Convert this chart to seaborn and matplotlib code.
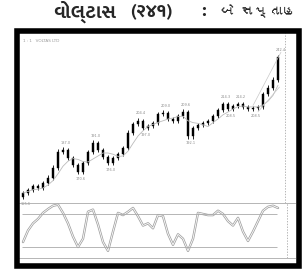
import pandas as pd
import matplotlib
matplotlib.use("Agg")
import matplotlib.pyplot as plt
import seaborn as sns
from matplotlib import font_manager
from matplotlib.ft2font import FT2Font
from matplotlib.patches import Rectangle

# datos de velas (vela diaria, Voltas)
opens = [157.0, 159.4, 161.2, 163.6, 162.4, 165.4, 168.4, 174.4, 184.0, 185.2,
         180.4, 176.2, 172.0, 177.4, 184.0, 189.4, 185.2, 181.0, 177.4, 180.4,
         182.8, 186.4, 195.4, 200.8, 202.6, 198.4, 199.6, 201.4, 206.8, 207.4,
         203.8, 202.6, 205.6, 208.0, 193.6, 198.4, 200.2, 201.4, 202.6, 205.6,
         209.2, 212.8, 209.8, 211.6, 212.8, 211.0, 209.8, 210.4, 211.0, 218.8,
         222.4, 227.2]
closes = [159.4, 161.2, 163.6, 162.4, 165.4, 168.4, 174.4, 184.0, 185.2, 180.4,
          176.2, 172.0, 177.4, 184.0, 189.4, 185.2, 181.0, 177.4, 180.4, 182.8,
          186.4, 195.4, 200.8, 202.6, 198.4, 199.6, 201.4, 206.8, 207.4, 203.8,
          202.6, 205.6, 208.0, 193.6, 198.4, 200.2, 201.4, 202.6, 205.6, 209.2,
          212.8, 209.8, 211.6, 212.8, 211.0, 209.8, 210.4, 211.0, 218.8, 222.4,
          227.2, 241.0]
highs = [160.8, 162.5, 165.0, 164.8, 166.9, 170.1, 176.0, 185.6, 187.0, 186.3,
         181.9, 177.5, 178.9, 185.5, 191.0, 190.6, 186.4, 182.2, 181.8, 184.1,
         187.9, 197.0, 202.3, 204.4, 203.8, 200.9, 202.8, 208.2, 209.0, 208.6,
         205.1, 207.0, 209.6, 209.1, 199.9, 201.5, 202.9, 203.9, 207.0, 210.5,
         214.3, 214.0, 213.0, 214.2, 214.0, 212.3, 211.9, 212.4, 220.3, 224.0,
         228.8, 242.4]
lows = [155.6, 158.0, 160.0, 161.0, 161.1, 164.0, 167.2, 173.1, 182.7, 179.1,
        174.8, 170.6, 170.9, 176.0, 182.8, 183.9, 179.6, 176.0, 176.1, 179.0,
        181.4, 185.0, 194.0, 199.5, 197.0, 197.1, 198.2, 200.1, 205.5, 202.5,
        201.2, 201.3, 204.3, 192.1, 192.0, 197.0, 199.0, 200.1, 201.2, 204.3,
        207.9, 208.5, 208.4, 210.3, 209.6, 208.4, 208.5, 209.1, 209.8, 217.5,
        221.0, 226.0]

# oscilador (estocástico)
osc = [29, 50, 63, 71, 82, 89, 95, 97, 82, 63,
       39, 20, 35, 84, 88, 61, 29, 13, 48, 82,
       78, 84, 91, 76, 59, 63, 54, 78, 76, 44,
       24, 43, 35, 13, 35, 82, 80, 78, 78, 86,
       80, 67, 59, 73, 48, 31, 48, 67, 86, 93,
       95, 91]

# etiquetas de máximos / mínimos
swing_hi = [8, 14, 23, 28, 32, 40, 43, 51]
swing_lo = [0, 11, 17, 24, 33, 41, 46]

# título: partes en negrita y resto normal
title_parts = ["વોલ્ટાસ", "(૨૪૧)", ":"]
title_x = [53, 130, 201]
title_rest = "બે સપ્તાહ"
header = "1 : 1   VOLTAS LTD"

df = pd.DataFrame({"i": range(len(closes)), "open": opens, "close": closes,
                   "high": highs, "low": lows, "osc": osc})
df["ma"] = df["close"].rolling(5, min_periods=1).mean()

sns.set_theme(style="white")

# familias con gujarati (letras y cifras)
guj_bold, guj_reg, guj_any = [], [], []
for f in font_manager.fontManager.ttflist:
    try:
        cmap = FT2Font(f.fname).get_charmap()
    except Exception:
        continue
    if 0x0AB5 not in cmap:
        continue
    guj_any.append(f.name)
    if 0x0AE8 in cmap:
        if f.weight in ("bold", 700, "heavy", 800, 900):
            guj_bold.append(f.name)
        else:
            guj_reg.append(f.name)
fam_bold = list(dict.fromkeys(guj_bold + guj_reg + guj_any)) + ["DejaVu Sans"]
fam_reg = list(dict.fromkeys(guj_reg + guj_bold + guj_any)) + ["DejaVu Sans"]

W, H = 304, 270
fig = plt.figure(figsize=(W / 100, H / 100), dpi=100)
fig.patch.set_facecolor("white")

ax = fig.add_axes([19 / W, 1 - 203 / H, 276 / W, 170 / H])
ax2 = fig.add_axes([19 / W, 1 - 258 / H, 276 / W, 55 / H])

# velas
ax.vlines(df["i"], df["low"], df["high"], color="black", lw=0.6)
body_bot = df[["open", "close"]].min(axis=1)
body_h = (df["close"] - df["open"]).abs()
ax.bar(df["i"], body_h, bottom=body_bot, width=0.5, color="black", edgecolor="black", lw=0.3)
sns.lineplot(data=df, x="i", y="ma", ax=ax, color="#bbbbbb", lw=0.6)

# canal final
ax.plot([46, 51.6], [highs[46], highs[51] + 1.5], color="#c8c8c8", lw=0.5)
ax.plot([47, 51.3], [lows[47] - 1, lows[51] - 3], color="#c8c8c8", lw=0.5)

for k in swing_hi:
    ax.text(k + 0.5, highs[k] + 1.5, f"{highs[k]:.1f}", fontsize=2.5, color="#888888",
            ha="center", va="bottom")
for k in swing_lo:
    ax.text(k + 0.5, lows[k] - 1.5, f"{lows[k]:.1f}", fontsize=2.5, color="#888888",
            ha="center", va="top")

ax.axvline(52.4, color="#999999", lw=0.5, ls=(0, (2, 2)))
ax.set_xlim(-0.8, 54.4)
ax.set_ylim(153.4, 255.4)
ax.text(0.015, 0.955, header, transform=ax.transAxes, fontsize=3, color="#999999", va="center")

# oscilador
sns.lineplot(data=df, x="i", y="osc", ax=ax2, color="#a0a0a0", lw=1.7)
sns.lineplot(data=df, x="i", y="osc", ax=ax2, color="white", lw=0.6)
ax2.hlines([80, 20], -0.2, 50.8, color="#aaaaaa", lw=0.6)
ax2.axvline(52.8, color="#999999", lw=0.5, ls=(0, (2, 2)))
ax2.set_xlim(-0.8, 54.4)
ax2.set_ylim(0, 100)

for a in (ax, ax2):
    a.set_xlabel("")
    a.set_ylabel("")
    a.set_xticks([])
    a.set_yticks([])
    a.patch.set_alpha(0)
    for s in a.spines.values():
        s.set_visible(False)
for side in ("top", "bottom"):
    ax2.spines[side].set_visible(True)
    ax2.spines[side].set_color("#aaaaaa")
    ax2.spines[side].set_linewidth(0.6)

# marco negro
fig.patches.append(Rectangle((16.5 / W, 1 - 266 / H), 282 / W, 235.5 / H,
                             transform=fig.transFigure, fill=False,
                             edgecolor="black", lw=4.0))

for txt, x in zip(title_parts, title_x):
    fig.text(x / W, 1 - 11.5 / H, txt, fontsize=14, fontweight="bold",
             family=fam_bold, va="center", ha="left")
fig.text(220 / W, 1 - 11.5 / H, title_rest, fontsize=10, family=fam_reg,
         va="center", ha="left")

fig.savefig("out.png", dpi=100)
